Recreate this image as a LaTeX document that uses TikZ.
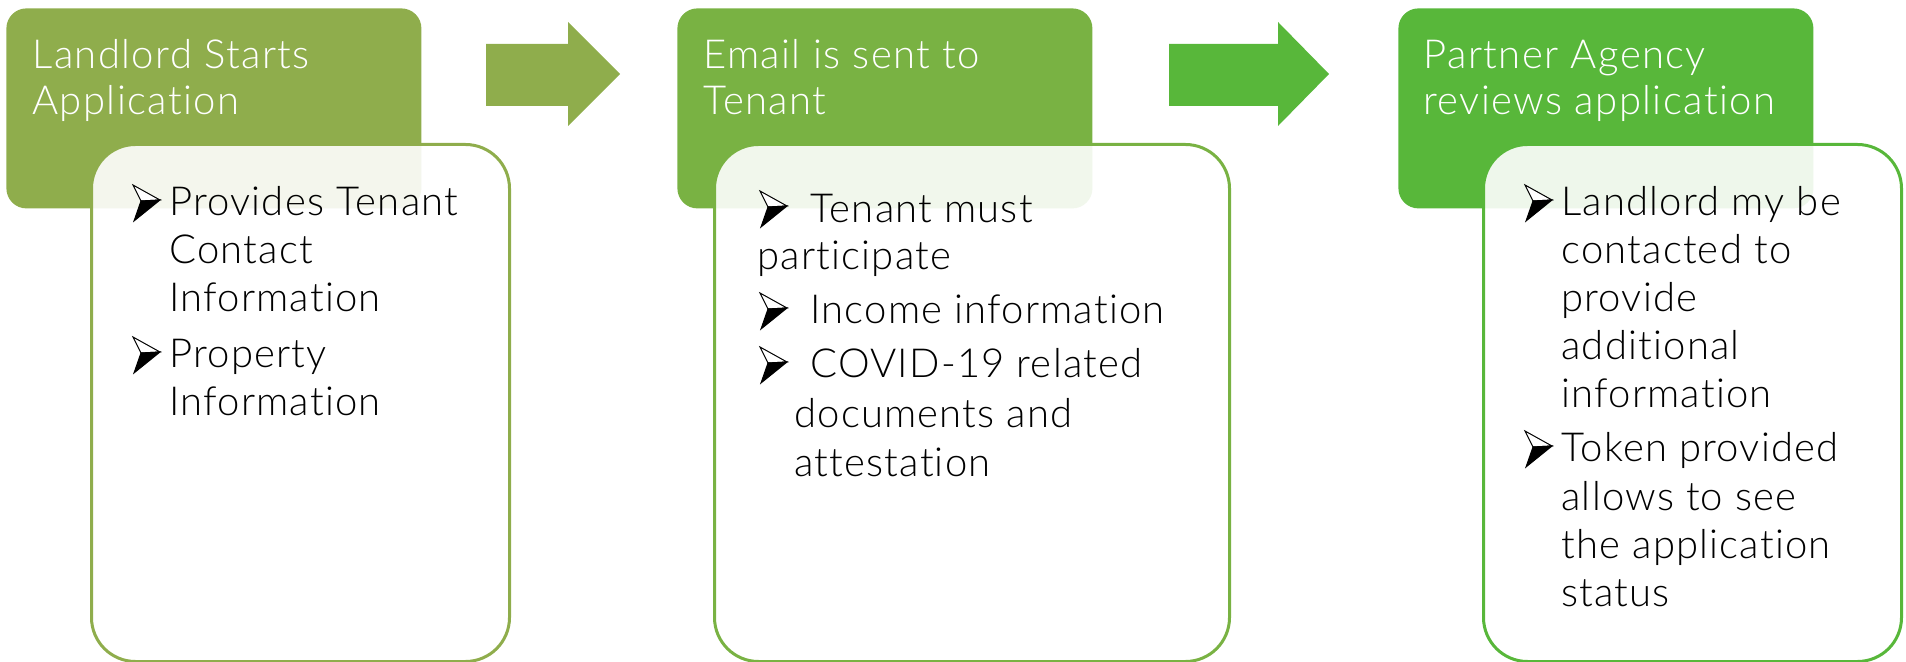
\documentclass[tikz,border=0pt]{standalone}
\usepackage{fontspec}
\setmainfont{Lato Light}[Ligatures=NoCommon]
\definecolor{gA}{HTML}{8FAD4C}
\definecolor{gB}{HTML}{79B243}
\definecolor{gC}{HTML}{58B73A}
\begin{document}
\begin{tikzpicture}[x=0.5pt,y=-0.5pt,
  hbox/.style={anchor=north west, inner sep=0, rounded corners=10pt, minimum width=207.5pt, minimum height=100pt},
  ibox/.style={anchor=north west, inner sep=0, rounded corners=22pt, minimum width=209pt, minimum height=258.5pt, fill=white, fill opacity=0.9, line width=1.5pt},
  hdr/.style={anchor=base west, inner sep=0, text=white, font=\fontsize{20}{24}\selectfont\addfontfeature{LetterSpace=3.5}},
  txt/.style={anchor=base west, inner sep=0, text=black, font=\fontsize{20}{24}\selectfont\addfontfeature{LetterSpace=3}},
  arrowbul/.pic={
    \filldraw[fill=white, draw=black, line width=0.5pt, line join=miter] (0,-31) -- (27,-16) -- (8,-15) -- cycle;
    \filldraw[fill=black, draw=black, line width=0.5pt, line join=miter] (8,-15) -- (27,-16) -- (1,5) -- cycle;
  }]
\useasboundingbox (0,0) rectangle (1906,662);
% headers
\node[hbox, fill=gA] (h1) at (6,8) {};
\node[hbox, fill=gB] (h2) at (677,8) {};
\node[hbox, fill=gC] (h3) at (1398,8) {};
% arrows
\fill[gA] (486,44) -- (568,44) -- (568,22) -- (620,74) -- (568,126) -- (568,106) -- (486,106) -- cycle;
\fill[gC] (1169,44) -- (1278,44) -- (1278,22) -- (1329,74) -- (1278,126) -- (1278,106) -- (1169,106) -- cycle;
% inner boxes
\node[ibox, draw=gA] (b1) at (90,143) {};
\node[ibox, draw=gB, minimum width=257.5pt] (b2) at (713,143) {};
\node[ibox, draw=gC] (b3) at (1482,143) {};
% header texts
\node[hdr] (h1a) at (32,69) {Landlord Starts};
\node[hdr] (h1b) at (32,115) {Application};
\node[hdr] (h2a) at (703,69) {Email is sent to};
\node[hdr] (h2b) at (703,115) {Tenant};
\node[hdr] (h3a) at (1423,69) {Partner Agency};
\node[hdr] (h3b) at (1423,115) {reviews application};
% box 1
\pic at (133,216) {arrowbul};
\node[txt] (t11) at (169,216) {Provides Tenant};
\node[txt] (t12) at (169,264) {Contact};
\node[txt] (t13) at (169,312) {Information};
\pic at (133,368) {arrowbul};
\node[txt] (t14) at (169,368) {Property};
\node[txt] (t15) at (169,416) {Information};
% box 2
\pic at (760,222) {arrowbul};
\node[txt] (t21) at (810,223) {Tenant must};
\node[txt] (t22) at (757,270) {participate};
\pic at (760,324) {arrowbul};
\node[txt] (t23) at (810,324) {Income information};
\pic at (760,378) {arrowbul};
\node[txt] (t24) at (810,378) {COVID-19 related};
\node[txt] (t25) at (794,428) {documents and};
\node[txt] (t26) at (794,477) {attestation};
% box 3
\pic at (1525,216) {arrowbul};
\node[txt] (t31) at (1561,216) {Landlord my be};
\node[txt] (t32) at (1561,264) {contacted to};
\node[txt] (t33) at (1561,312) {provide};
\node[txt] (t34) at (1561,360) {additional};
\node[txt] (t35) at (1561,408) {information};
\pic at (1525,462) {arrowbul};
\node[txt] (t36) at (1561,462) {Token provided};
\node[txt] (t37) at (1561,510) {allows to see};
\node[txt] (t38) at (1561,558) {the application};
\node[txt] (t39) at (1561,606) {status};
\end{tikzpicture}
\end{document}
